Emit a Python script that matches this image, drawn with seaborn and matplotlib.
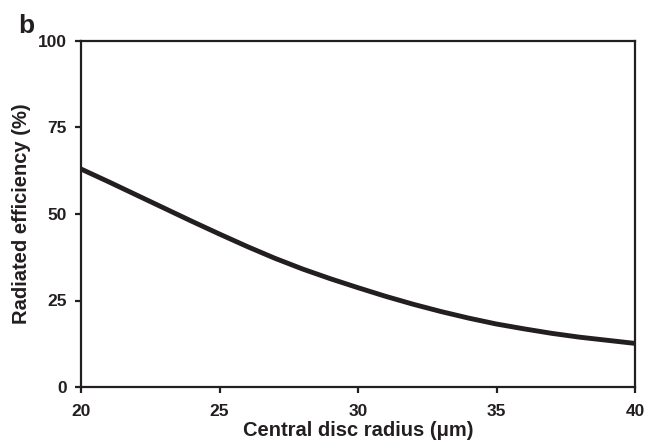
import numpy as np
import pandas as pd
import matplotlib
matplotlib.use("Agg")
import matplotlib.pyplot as plt
import seaborn as sns

radius_um = [20, 21, 22, 23, 24, 25, 26, 27, 28, 29, 30, 31, 32, 33, 34, 35, 36, 37, 38, 39, 40]
efficiency_pct = [63.0, 59.3, 55.5, 51.7, 47.9, 44.2, 40.6, 37.2, 34.1, 31.3, 28.7, 26.2,
                  23.9, 21.8, 19.9, 18.2, 16.8, 15.5, 14.4, 13.5, 12.6]
x_ticks = [20, 25, 30, 35, 40]
y_ticks = [0, 25, 50, 75, 100]

sns.set_theme(style="ticks")
plt.rcParams['font.family'] = ['Liberation Sans', 'DejaVu Sans']

df = pd.DataFrame({"radius": radius_um, "eff": efficiency_pct})

fig = plt.figure(figsize=(6.5, 4.46), dpi=100)
ax = fig.add_axes([81/650, 1 - 387/446, (635-81)/650, (387-41)/446])
ink = "#231f20"
sns.lineplot(data=df, x="radius", y="eff", ax=ax, color=ink, linewidth=3.5)

ax.set_xlim(20, 40)
ax.set_ylim(0, 100)
ax.set_xticks(x_ticks)
ax.set_yticks(y_ticks)
ax.set_xticklabels([str(t) for t in x_ticks], fontsize=12.5, fontweight="bold", color=ink)
ax.set_yticklabels([str(t) for t in y_ticks], fontsize=12.5, fontweight="bold", color=ink)
ax.set_xlabel("Central disc radius (μm)", fontsize=14.5, fontweight="bold", color=ink, labelpad=2)
ax.set_ylabel("Radiated efficiency (%)", fontsize=14.5, fontweight="bold", color=ink, labelpad=5)
for s in ax.spines.values():
    s.set_visible(True)
    s.set_linewidth(1.6)
    s.set_color(ink)
ax.tick_params(direction="out", length=4, width=1.6, color=ink)
ax.tick_params(axis="x", pad=8)
ax.tick_params(axis="y", pad=6)

fig.text(18/650, 1 - 33/446, "b", fontsize=19, fontweight="bold", color=ink, ha="left", va="baseline")

fig.savefig("out.png", dpi=100)
